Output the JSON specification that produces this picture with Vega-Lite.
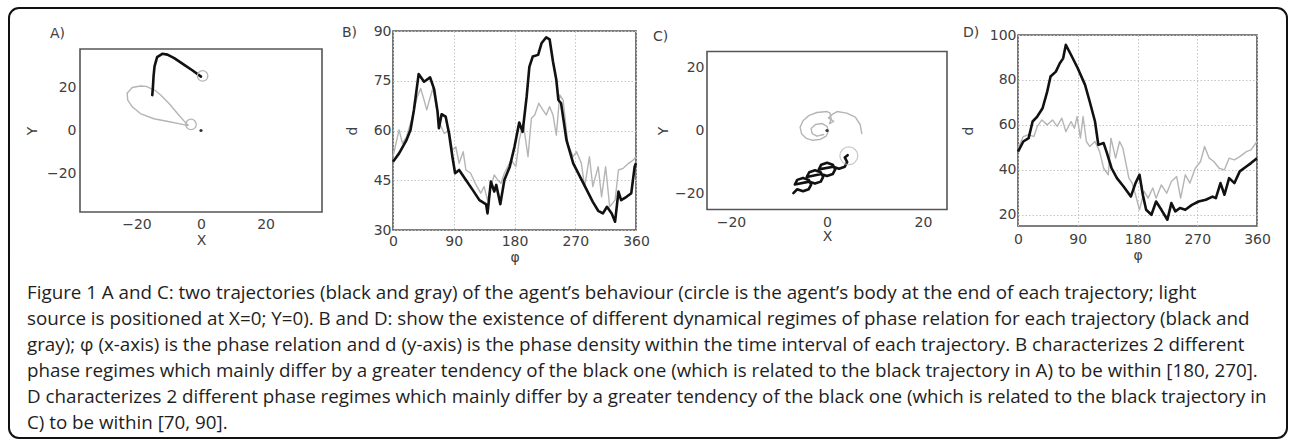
{
  "$schema": "https://vega.github.io/schema/vega-lite/v6.json",
  "padding": {"left": 8, "top": 7, "right": 0, "bottom": 0},
  "background": "white",
  "datasets": {
    "A": [
      {"traj": "gray", "x": -4.0, "y": 2.4}, {"traj": "gray", "x": -5.2, "y": 4.3}, {"traj": "gray", "x": -7.3, "y": 7.8}, {"traj": "gray", "x": -9.9, "y": 12.4}, {"traj": "gray", "x": -12.5, "y": 16.3}, {"traj": "gray", "x": -14.1, "y": 18.3}, {"traj": "gray", "x": -15.3, "y": 19.2}, {"traj": "gray", "x": -17.0, "y": 20.3}, {"traj": "gray", "x": -18.8, "y": 20.5}, {"traj": "gray", "x": -21.3, "y": 19.8}, {"traj": "gray", "x": -22.9, "y": 17.1}, {"traj": "gray", "x": -22.7, "y": 14.0}, {"traj": "gray", "x": -21.3, "y": 10.9}, {"traj": "gray", "x": -18.8, "y": 7.8}, {"traj": "gray", "x": -14.6, "y": 5.4}, {"traj": "gray", "x": -9.4, "y": 3.9}, {"traj": "gray", "x": -5.7, "y": 2.8}, {"traj": "gray", "x": -4.2, "y": 2.3},
      {"traj": "black", "x": -15.1, "y": 16.3}, {"traj": "black", "x": -14.9, "y": 20.0}, {"traj": "black", "x": -14.7, "y": 25.0}, {"traj": "black", "x": -14.4, "y": 29.5}, {"traj": "black", "x": -13.6, "y": 33.8}, {"traj": "black", "x": -12.0, "y": 35.3}, {"traj": "black", "x": -10.4, "y": 34.9}, {"traj": "black", "x": -8.3, "y": 33.3}, {"traj": "black", "x": -5.2, "y": 30.2}, {"traj": "black", "x": -2.6, "y": 27.6}, {"traj": "black", "x": 0.0, "y": 24.8}
    ],
    "Abody": [{"x": 0.5, "y": 25.1}, {"x": -3.1, "y": 2.8}],
    "C": [
      {"traj": "gray", "x": 7.25, "y": -1.0}, {"traj": "gray", "x": 6.9, "y": 1.9}, {"traj": "gray", "x": 5.9, "y": 4.2}, {"traj": "gray", "x": 4.1, "y": 5.5}, {"traj": "gray", "x": 2.1, "y": 6.0}, {"traj": "gray", "x": 1.2, "y": 5.2}, {"traj": "gray", "x": 0.3, "y": 4.0}, {"traj": "gray", "x": 1.4, "y": 2.9}, {"traj": "gray", "x": 0.5, "y": 2.2}, {"traj": "gray", "x": 0.9, "y": 3.6}, {"traj": "gray", "x": 0.6, "y": 5.6}, {"traj": "gray", "x": 0.0, "y": 6.0}, {"traj": "gray", "x": -2.1, "y": 5.7}, {"traj": "gray", "x": -3.8, "y": 4.7}, {"traj": "gray", "x": -5.0, "y": 3.1}, {"traj": "gray", "x": -5.6, "y": 1.0}, {"traj": "gray", "x": -5.3, "y": -1.0}, {"traj": "gray", "x": -4.3, "y": -2.5}, {"traj": "gray", "x": -3.0, "y": -3.1}, {"traj": "gray", "x": -1.4, "y": -2.8}, {"traj": "gray", "x": -0.2, "y": -1.8}, {"traj": "gray", "x": 0.3, "y": -0.2}, {"traj": "gray", "x": 0.0, "y": 1.3}, {"traj": "gray", "x": -1.0, "y": 2.2}, {"traj": "gray", "x": -2.4, "y": 1.9}, {"traj": "gray", "x": -3.3, "y": 0.6}, {"traj": "gray", "x": -3.1, "y": -1.0}, {"traj": "gray", "x": -2.1, "y": -1.8}, {"traj": "gray", "x": -0.7, "y": -1.25},
      {"traj": "black", "x": -7.0, "y": -19.8}, {"traj": "black", "x": -6.2, "y": -18.58}, {"traj": "black", "x": -5.0, "y": -19.2}, {"traj": "black", "x": -3.8, "y": -18.58}, {"traj": "black", "x": -3.3, "y": -17.1}, {"traj": "black", "x": -3.8, "y": -15.62}, {"traj": "black", "x": -5.0, "y": -15.0}, {"traj": "black", "x": -6.2, "y": -15.62}, {"traj": "black", "x": -6.7, "y": -17.1},
      {"traj": "black", "x": -3.7, "y": -16.18}, {"traj": "black", "x": -2.5, "y": -16.8}, {"traj": "black", "x": -1.3, "y": -16.18}, {"traj": "black", "x": -0.8, "y": -14.7}, {"traj": "black", "x": -1.3, "y": -13.22}, {"traj": "black", "x": -2.5, "y": -12.6}, {"traj": "black", "x": -3.7, "y": -13.22}, {"traj": "black", "x": -4.2, "y": -14.7},
      {"traj": "black", "x": -1.2, "y": -13.78}, {"traj": "black", "x": 0.0, "y": -14.4}, {"traj": "black", "x": 1.2, "y": -13.78}, {"traj": "black", "x": 1.7, "y": -12.3}, {"traj": "black", "x": 1.2, "y": -10.82}, {"traj": "black", "x": 0.0, "y": -10.2}, {"traj": "black", "x": -1.2, "y": -10.82}, {"traj": "black", "x": -1.7, "y": -12.3},
      {"traj": "black", "x": 1.3, "y": -11.48}, {"traj": "black", "x": 2.5, "y": -12.1}, {"traj": "black", "x": 3.7, "y": -11.48}, {"traj": "black", "x": 4.2, "y": -10.0}, {"traj": "black", "x": 3.7, "y": -8.52}, {"traj": "black", "x": 4.3, "y": -7.8}
    ],
    "Cbody": [{"x": 4.55, "y": -8.0}],
    "B": [
      {"traj": "gray", "phi": 0, "d": 52.1}, {"traj": "gray", "phi": 9, "d": 60.2}, {"traj": "gray", "phi": 14, "d": 56.1}, {"traj": "gray", "phi": 20, "d": 58.1}, {"traj": "gray", "phi": 29, "d": 64.2}, {"traj": "gray", "phi": 36, "d": 70.2}, {"traj": "gray", "phi": 41, "d": 72.7}, {"traj": "gray", "phi": 46, "d": 69.2}, {"traj": "gray", "phi": 50, "d": 66.2}, {"traj": "gray", "phi": 54, "d": 69.2}, {"traj": "gray", "phi": 59, "d": 72.7}, {"traj": "gray", "phi": 63, "d": 68.2}, {"traj": "gray", "phi": 69, "d": 62.2}, {"traj": "gray", "phi": 76, "d": 59.1}, {"traj": "gray", "phi": 83, "d": 60.2}, {"traj": "gray", "phi": 88, "d": 54.1}, {"traj": "gray", "phi": 93, "d": 55.1}, {"traj": "gray", "phi": 98, "d": 50.1}, {"traj": "gray", "phi": 104, "d": 53.6}, {"traj": "gray", "phi": 108, "d": 48.1}, {"traj": "gray", "phi": 115, "d": 47.1}, {"traj": "gray", "phi": 123, "d": 43.6}, {"traj": "gray", "phi": 130, "d": 41.1}, {"traj": "gray", "phi": 135, "d": 43.1}, {"traj": "gray", "phi": 140, "d": 39.0}, {"traj": "gray", "phi": 145, "d": 43.1}, {"traj": "gray", "phi": 150, "d": 46.6}, {"traj": "gray", "phi": 155, "d": 45.1}, {"traj": "gray", "phi": 160, "d": 44.1}, {"traj": "gray", "phi": 165, "d": 47.1}, {"traj": "gray", "phi": 175, "d": 51.1}, {"traj": "gray", "phi": 182, "d": 49.1}, {"traj": "gray", "phi": 187, "d": 57.1}, {"traj": "gray", "phi": 193, "d": 62.2}, {"traj": "gray", "phi": 200, "d": 52.1}, {"traj": "gray", "phi": 205, "d": 63.7}, {"traj": "gray", "phi": 210, "d": 64.7}, {"traj": "gray", "phi": 216, "d": 68.2}, {"traj": "gray", "phi": 222, "d": 66.2}, {"traj": "gray", "phi": 227, "d": 64.7}, {"traj": "gray", "phi": 232, "d": 67.2}, {"traj": "gray", "phi": 237, "d": 64.7}, {"traj": "gray", "phi": 242, "d": 58.6}, {"traj": "gray", "phi": 247, "d": 70.7}, {"traj": "gray", "phi": 252, "d": 69.2}, {"traj": "gray", "phi": 259, "d": 56.1}, {"traj": "gray", "phi": 267, "d": 52.1}, {"traj": "gray", "phi": 272, "d": 53.6}, {"traj": "gray", "phi": 279, "d": 50.1}, {"traj": "gray", "phi": 284, "d": 43.1}, {"traj": "gray", "phi": 291, "d": 52.1}, {"traj": "gray", "phi": 296, "d": 43.1}, {"traj": "gray", "phi": 304, "d": 49.1}, {"traj": "gray", "phi": 309, "d": 40.0}, {"traj": "gray", "phi": 315, "d": 49.1}, {"traj": "gray", "phi": 321, "d": 37.0}, {"traj": "gray", "phi": 329, "d": 39.0}, {"traj": "gray", "phi": 334, "d": 48.1}, {"traj": "gray", "phi": 341, "d": 48.6}, {"traj": "gray", "phi": 349, "d": 50.1}, {"traj": "gray", "phi": 356, "d": 51.1}, {"traj": "gray", "phi": 360, "d": 52.1},
      {"traj": "black", "phi": 0, "d": 50.6}, {"traj": "black", "phi": 9, "d": 53.1}, {"traj": "black", "phi": 20, "d": 57.1}, {"traj": "black", "phi": 26, "d": 60.2}, {"traj": "black", "phi": 31, "d": 66.2}, {"traj": "black", "phi": 38, "d": 77.0}, {"traj": "black", "phi": 46, "d": 74.7}, {"traj": "black", "phi": 55, "d": 76.0}, {"traj": "black", "phi": 61, "d": 72.4}, {"traj": "black", "phi": 66, "d": 65.7}, {"traj": "black", "phi": 68, "d": 60.7}, {"traj": "black", "phi": 72, "d": 64.9}, {"traj": "black", "phi": 78, "d": 64.2}, {"traj": "black", "phi": 83, "d": 59.1}, {"traj": "black", "phi": 88, "d": 52.1}, {"traj": "black", "phi": 92, "d": 47.1}, {"traj": "black", "phi": 98, "d": 48.1}, {"traj": "black", "phi": 108, "d": 45.1}, {"traj": "black", "phi": 118, "d": 42.1}, {"traj": "black", "phi": 128, "d": 39.0}, {"traj": "black", "phi": 138, "d": 37.7}, {"traj": "black", "phi": 140, "d": 35.0}, {"traj": "black", "phi": 145, "d": 44.6}, {"traj": "black", "phi": 150, "d": 41.6}, {"traj": "black", "phi": 153, "d": 43.6}, {"traj": "black", "phi": 159, "d": 37.8}, {"traj": "black", "phi": 165, "d": 45.1}, {"traj": "black", "phi": 173, "d": 49.1}, {"traj": "black", "phi": 180, "d": 55.1}, {"traj": "black", "phi": 187, "d": 62.4}, {"traj": "black", "phi": 192, "d": 59.6}, {"traj": "black", "phi": 198, "d": 70.2}, {"traj": "black", "phi": 202, "d": 79.2}, {"traj": "black", "phi": 207, "d": 82.3}, {"traj": "black", "phi": 215, "d": 82.8}, {"traj": "black", "phi": 220, "d": 86.3}, {"traj": "black", "phi": 227, "d": 88.1}, {"traj": "black", "phi": 232, "d": 87.5}, {"traj": "black", "phi": 237, "d": 80.8}, {"traj": "black", "phi": 242, "d": 75.2}, {"traj": "black", "phi": 245, "d": 69.2}, {"traj": "black", "phi": 249, "d": 68.2}, {"traj": "black", "phi": 257, "d": 57.1}, {"traj": "black", "phi": 267, "d": 50.1}, {"traj": "black", "phi": 277, "d": 46.1}, {"traj": "black", "phi": 287, "d": 42.1}, {"traj": "black", "phi": 296, "d": 38.5}, {"traj": "black", "phi": 304, "d": 35.8}, {"traj": "black", "phi": 311, "d": 35.0}, {"traj": "black", "phi": 317, "d": 37.0}, {"traj": "black", "phi": 324, "d": 35.0}, {"traj": "black", "phi": 329, "d": 32.5}, {"traj": "black", "phi": 334, "d": 41.6}, {"traj": "black", "phi": 338, "d": 39.0}, {"traj": "black", "phi": 346, "d": 40.0}, {"traj": "black", "phi": 353, "d": 41.1}, {"traj": "black", "phi": 358, "d": 49.1}, {"traj": "black", "phi": 360, "d": 50.1}
    ],
    "D": [
      {"traj": "gray", "phi": 0, "d": 49.6}, {"traj": "gray", "phi": 8, "d": 54.8}, {"traj": "gray", "phi": 16, "d": 55.7}, {"traj": "gray", "phi": 24, "d": 54.8}, {"traj": "gray", "phi": 29, "d": 59.3}, {"traj": "gray", "phi": 36, "d": 62.2}, {"traj": "gray", "phi": 44, "d": 60.0}, {"traj": "gray", "phi": 52, "d": 62.2}, {"traj": "gray", "phi": 59, "d": 59.3}, {"traj": "gray", "phi": 66, "d": 63.0}, {"traj": "gray", "phi": 72, "d": 57.0}, {"traj": "gray", "phi": 80, "d": 61.5}, {"traj": "gray", "phi": 85, "d": 58.5}, {"traj": "gray", "phi": 89, "d": 63.7}, {"traj": "gray", "phi": 94, "d": 54.1}, {"traj": "gray", "phi": 98, "d": 63.7}, {"traj": "gray", "phi": 103, "d": 52.6}, {"traj": "gray", "phi": 108, "d": 50.4}, {"traj": "gray", "phi": 116, "d": 52.6}, {"traj": "gray", "phi": 123, "d": 48.1}, {"traj": "gray", "phi": 129, "d": 40.7}, {"traj": "gray", "phi": 136, "d": 37.8}, {"traj": "gray", "phi": 140, "d": 54.1}, {"traj": "gray", "phi": 147, "d": 45.2}, {"traj": "gray", "phi": 153, "d": 52.6}, {"traj": "gray", "phi": 158, "d": 49.6}, {"traj": "gray", "phi": 162, "d": 43.7}, {"traj": "gray", "phi": 167, "d": 36.3}, {"traj": "gray", "phi": 172, "d": 34.1}, {"traj": "gray", "phi": 177, "d": 28.9}, {"traj": "gray", "phi": 183, "d": 22.2}, {"traj": "gray", "phi": 190, "d": 30.4}, {"traj": "gray", "phi": 196, "d": 27.4}, {"traj": "gray", "phi": 203, "d": 31.9}, {"traj": "gray", "phi": 208, "d": 27.4}, {"traj": "gray", "phi": 216, "d": 33.3}, {"traj": "gray", "phi": 224, "d": 29.6}, {"traj": "gray", "phi": 231, "d": 34.8}, {"traj": "gray", "phi": 239, "d": 37.0}, {"traj": "gray", "phi": 245, "d": 27.4}, {"traj": "gray", "phi": 252, "d": 37.8}, {"traj": "gray", "phi": 259, "d": 34.1}, {"traj": "gray", "phi": 267, "d": 40.7}, {"traj": "gray", "phi": 275, "d": 43.7}, {"traj": "gray", "phi": 281, "d": 50.4}, {"traj": "gray", "phi": 288, "d": 45.2}, {"traj": "gray", "phi": 295, "d": 43.7}, {"traj": "gray", "phi": 303, "d": 40.7}, {"traj": "gray", "phi": 311, "d": 40.0}, {"traj": "gray", "phi": 318, "d": 45.2}, {"traj": "gray", "phi": 326, "d": 44.4}, {"traj": "gray", "phi": 334, "d": 45.9}, {"traj": "gray", "phi": 344, "d": 48.1}, {"traj": "gray", "phi": 351, "d": 48.9}, {"traj": "gray", "phi": 360, "d": 52.6},
      {"traj": "black", "phi": 0, "d": 48.1}, {"traj": "black", "phi": 8, "d": 52.6}, {"traj": "black", "phi": 16, "d": 54.1}, {"traj": "black", "phi": 22, "d": 61.5}, {"traj": "black", "phi": 29, "d": 63.7}, {"traj": "black", "phi": 37, "d": 67.4}, {"traj": "black", "phi": 44, "d": 74.8}, {"traj": "black", "phi": 49, "d": 81.5}, {"traj": "black", "phi": 57, "d": 83.7}, {"traj": "black", "phi": 63, "d": 87.4}, {"traj": "black", "phi": 68, "d": 89.6}, {"traj": "black", "phi": 72, "d": 95.6}, {"traj": "black", "phi": 80, "d": 91.1}, {"traj": "black", "phi": 90, "d": 85.2}, {"traj": "black", "phi": 101, "d": 77.8}, {"traj": "black", "phi": 108, "d": 70.4}, {"traj": "black", "phi": 116, "d": 61.5}, {"traj": "black", "phi": 121, "d": 51.1}, {"traj": "black", "phi": 129, "d": 51.9}, {"traj": "black", "phi": 134, "d": 47.4}, {"traj": "black", "phi": 141, "d": 40.7}, {"traj": "black", "phi": 149, "d": 36.3}, {"traj": "black", "phi": 159, "d": 32.6}, {"traj": "black", "phi": 170, "d": 28.1}, {"traj": "black", "phi": 177, "d": 34.1}, {"traj": "black", "phi": 183, "d": 37.8}, {"traj": "black", "phi": 188, "d": 28.9}, {"traj": "black", "phi": 193, "d": 22.2}, {"traj": "black", "phi": 201, "d": 20.0}, {"traj": "black", "phi": 208, "d": 25.9}, {"traj": "black", "phi": 216, "d": 22.2}, {"traj": "black", "phi": 225, "d": 17.8}, {"traj": "black", "phi": 231, "d": 25.2}, {"traj": "black", "phi": 237, "d": 21.5}, {"traj": "black", "phi": 244, "d": 23.0}, {"traj": "black", "phi": 252, "d": 22.2}, {"traj": "black", "phi": 262, "d": 24.4}, {"traj": "black", "phi": 272, "d": 25.9}, {"traj": "black", "phi": 283, "d": 26.7}, {"traj": "black", "phi": 293, "d": 28.1}, {"traj": "black", "phi": 298, "d": 27.4}, {"traj": "black", "phi": 305, "d": 34.1}, {"traj": "black", "phi": 311, "d": 28.9}, {"traj": "black", "phi": 318, "d": 36.3}, {"traj": "black", "phi": 326, "d": 34.1}, {"traj": "black", "phi": 334, "d": 39.3}, {"traj": "black", "phi": 344, "d": 41.5}, {"traj": "black", "phi": 351, "d": 43.0}, {"traj": "black", "phi": 360, "d": 45.2}
    ]
  },
  "hconcat": [
    {
      "width": 242,
      "height": 163,
      "title": {"text": "A)", "dx": -30, "offset": -3, "baseline": "alphabetic"},
      "layer": [
        {
          "data": {"name": "A"},
          "mark": {"type": "line", "strokeJoin": "round", "strokeCap": "round"},
          "encoding": {
            "x": {"field": "x", "type": "quantitative", "scale": {"domain": [-37.5, 37.5], "nice": false, "zero": false}, "axis": {"values": [-20, 0, 20], "title": "X", "labelPadding": 5, "titlePadding": 2}},
            "y": {"field": "y", "type": "quantitative", "scale": {"domain": [-37.5, 37.5], "nice": false, "zero": false}, "axis": {"values": [-20, 0, 20], "title": "Y", "labelPadding": 4, "titlePadding": 7}},
            "color": {
              "field": "traj", "type": "nominal",
              "scale": {"domain": ["black", "gray"], "range": ["#111111", "#b5b5b5"]},
              "legend": {
                "orient": "none", "legendX": -53, "legendY": 253,
                "title": [
                  "Figure 1 A and C: two trajectories (black and gray) of the agent’s behaviour (circle is the agent’s body at the end of each trajectory; light",
                  "source is positioned at X=0; Y=0). B and D: show the existence of different dynamical regimes of phase relation for each trajectory (black and",
                  "gray); φ (x-axis) is the phase relation and d (y-axis) is the phase density within the time interval of each trajectory. B characterizes 2 different",
                  "phase regimes which mainly differ by a greater tendency of the black one (which is related to the black trajectory in A) to be within [180, 270].",
                  "D characterizes 2 different phase regimes which mainly differ by a greater tendency of the black one (which is related to the black trajectory in",
                  "C) to be within [70, 90]."
                ],
                "titleFont": "Open Sans", "titleFontSize": 18.8, "titleFontWeight": "normal", "titleColor": "#1e1e1e",
                "titleLineHeight": 26, "titleLimit": 1400, "titlePadding": 2, "titleAnchor": "start", "titleAlign": "left",
                "padding": 0, "strokeColor": "transparent", "direction": "horizontal",
                "symbolOpacity": 0, "symbolSize": 1, "symbolStrokeWidth": 0,
                "labelOpacity": 0, "labelFontSize": 1
              }
            },
            "size": {"field": "traj", "type": "nominal", "scale": {"domain": ["black", "gray"], "range": [2.6, 1.4]}, "legend": null},
            "order": {"value": null}
          }
        },
        {
          "data": {"name": "Abody"},
          "mark": {"type": "point", "shape": "circle", "size": 110, "stroke": "#b5b5b5", "strokeWidth": 1.3, "fillOpacity": 0},
          "encoding": {
            "x": {"field": "x", "type": "quantitative"},
            "y": {"field": "y", "type": "quantitative"},
            "fill": {
              "field": "x", "type": "quantitative",
              "legend": {
                "type": "gradient", "orient": "none", "legendX": -71, "legendY": -23, "direction": "horizontal",
                "gradientLength": 1278, "gradientThickness": 429, "gradientOpacity": 0, "gradientStrokeWidth": 0,
                "labelOpacity": 0, "labelFontSize": 1, "labelOffset": 0, "title": null, "tickCount": 2,
                "strokeColor": "#111111", "cornerRadius": 10, "padding": 0
              }
            }
          }
        },
        {
          "data": {"values": [{"x": 0, "y": 0}]},
          "mark": {"type": "point", "shape": "circle", "filled": true, "size": 10, "color": "#333333", "opacity": 1},
          "encoding": {
            "x": {"field": "x", "type": "quantitative"},
            "y": {"field": "y", "type": "quantitative"}
          }
        }
      ]
    },
    {
      "width": 243,
      "height": 199,
      "title": {"text": "B)", "dx": -51, "offset": -27, "baseline": "alphabetic"},
      "data": {"name": "B"},
      "mark": {"type": "line", "strokeJoin": "round"},
      "encoding": {
        "x": {"field": "phi", "type": "quantitative", "scale": {"domain": [0, 360], "nice": false}, "axis": {"values": [0, 90, 180, 270, 360], "title": "φ", "grid": true, "labelPadding": 4, "titlePadding": 2}},
        "y": {"field": "d", "type": "quantitative", "scale": {"domain": [30, 90], "nice": false, "zero": false}, "axis": {"values": [30, 45, 60, 75, 90], "title": "d", "grid": true, "labelPadding": 2, "titlePadding": 14}},
        "color": {"field": "traj", "type": "nominal", "scale": {"domain": ["black", "gray"], "range": ["#111111", "#b5b5b5"]}, "legend": null},
        "size": {"field": "traj", "type": "nominal", "scale": {"domain": ["black", "gray"], "range": [2.4, 1.4]}, "legend": null}
      }
    },
    {
      "width": 240,
      "height": 158,
      "title": {"text": "C)", "dx": -54, "offset": -3.5, "baseline": "alphabetic"},
      "layer": [
        {
          "data": {"name": "C"},
          "mark": {"type": "line", "strokeJoin": "round", "strokeCap": "round"},
          "encoding": {
            "x": {"field": "x", "type": "quantitative", "scale": {"domain": [-25, 25], "nice": false, "zero": false}, "axis": {"values": [-20, 0, 20], "title": "X", "labelPadding": 6, "titlePadding": 0}},
            "y": {"field": "y", "type": "quantitative", "scale": {"domain": [-25, 25], "nice": false, "zero": false}, "axis": {"values": [-20, 0, 20], "title": "Y", "labelPadding": 3, "titlePadding": 4}},
            "color": {"field": "traj", "type": "nominal", "scale": {"domain": ["black", "gray"], "range": ["#111111", "#b5b5b5"]}, "legend": null},
            "size": {"field": "traj", "type": "nominal", "scale": {"domain": ["black", "gray"], "range": [1.7, 1.4]}, "legend": null},
            "order": {"value": null}
          }
        },
        {
          "data": {"name": "Cbody"},
          "mark": {"type": "point", "shape": "circle", "size": 320, "stroke": "#b5b5b5", "strokeWidth": 1.3, "filled": false},
          "encoding": {
            "x": {"field": "x", "type": "quantitative"},
            "y": {"field": "y", "type": "quantitative"}
          }
        },
        {
          "data": {"values": [{"x": 0, "y": 0}]},
          "mark": {"type": "point", "shape": "circle", "filled": true, "size": 10, "color": "#333333", "opacity": 1},
          "encoding": {
            "x": {"field": "x", "type": "quantitative"},
            "y": {"field": "y", "type": "quantitative"}
          }
        }
      ]
    },
    {
      "width": 239,
      "height": 191,
      "title": {"text": "D)", "dx": -55, "offset": -23, "baseline": "alphabetic"},
      "data": {"name": "D"},
      "mark": {"type": "line", "strokeJoin": "round"},
      "encoding": {
        "x": {"field": "phi", "type": "quantitative", "scale": {"domain": [0, 360], "nice": false}, "axis": {"values": [0, 90, 180, 270, 360], "title": "φ", "grid": true, "labelPadding": 6, "titlePadding": 2}},
        "y": {"field": "d", "type": "quantitative", "scale": {"domain": [15, 100], "nice": false, "zero": false}, "axis": {"values": [20, 40, 60, 80, 100], "title": "d", "grid": true, "labelPadding": 2, "titlePadding": 14}},
        "color": {"field": "traj", "type": "nominal", "scale": {"domain": ["black", "gray"], "range": ["#111111", "#b5b5b5"]}, "legend": null},
        "size": {"field": "traj", "type": "nominal", "scale": {"domain": ["black", "gray"], "range": [2.4, 1.4]}, "legend": null}
      }
    }
  ],
  "spacing": 71,
  "bounds": "flush",
  "center": true,
  "config": {
    "view": {"stroke": "#555555", "strokeWidth": 1.6},
    "axis": {
      "domain": false, "ticks": false, "grid": false,
      "labelFont": "DejaVu Sans", "labelFontSize": 14, "labelColor": "#404040",
      "titleFont": "DejaVu Sans", "titleFontSize": 14, "titleFontWeight": "normal", "titleColor": "#404040",
      "labelFlush": false, "labelOverlap": false,
      "gridColor": "#c4c4c4", "gridDash": [1.5, 2], "gridWidth": 1
    },
    "title": {"font": "DejaVu Sans", "fontSize": 14, "fontWeight": "normal", "color": "#404040", "anchor": "start", "frame": "group"},
    "legend": {"gradientHorizontalMaxLength": 3000, "gradientHorizontalMinLength": 10, "strokeWidth": 2}
  }
}
